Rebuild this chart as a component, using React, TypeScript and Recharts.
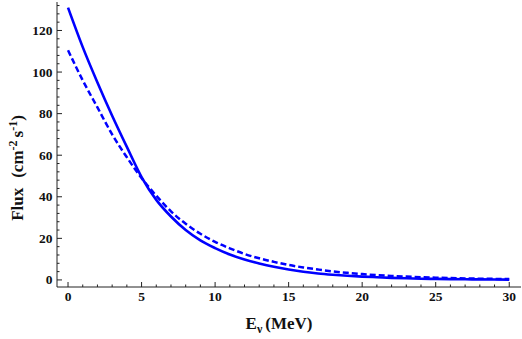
import React from 'react';
import { LineChart, Line, XAxis, YAxis } from 'recharts';

// neutrino energy (MeV) and the two flux curves
const ENERGY = [0, 1, 2, 3, 4, 5, 6, 7, 8, 9, 10, 11, 12, 13, 14, 15, 16, 17, 18, 19, 20, 21, 22, 23, 24, 25, 26, 27, 28, 29, 30];
const FLUX_SOLID = [131, 112, 95, 79, 64, 49.5, 38.5, 30.5, 24, 19, 15.3, 12.2, 9.8, 7.9, 6.3, 5.0, 3.9, 3.1, 2.5, 2.0, 1.6, 1.3, 1.0, 0.8, 0.6, 0.5, 0.4, 0.3, 0.25, 0.2, 0.15];
const FLUX_DASHED = [110.5, 96, 83, 70, 59, 49, 40.5, 33, 27, 22.2, 18.3, 15.2, 12.5, 10.4, 8.7, 7.2, 6.0, 5.0, 4.1, 3.4, 2.8, 2.3, 1.9, 1.6, 1.3, 1.1, 0.9, 0.7, 0.6, 0.5, 0.4];

const X_MAJOR = [0, 5, 10, 15, 20, 25, 30];
const Y_MAJOR = [0, 20, 40, 60, 80, 100, 120];

// minor ticks: every 1 MeV on x, every 4 on y
const X_TICKS = Array.from({ length: 31 }, (_, i) => i);
const Y_TICKS = Array.from({ length: 34 }, (_, i) => i * 4);

const data = ENERGY.map((e, i) => ({ e, solid: FLUX_SOLID[i], dashed: FLUX_DASHED[i] }));

const BLUE = '#0000ff';
const FRAME = '#222';
const FONT = 'Liberation Serif';

const MAJOR_LEN = 5;
const MINOR_LEN = 2.5;

const BottomTick = ({ x, y, payload }: any) => {
  const major = X_MAJOR.includes(payload.value);
  return (
    <g>
      <line x1={x} y1={y} x2={x} y2={y - (major ? MAJOR_LEN : MINOR_LEN)} stroke={FRAME} />
      {major && (
        <text x={x} y={y + 13.5} textAnchor="middle" style={{ fontFamily: FONT, fontWeight: 700, fontSize: 13.5 }} fill="#111">
          {payload.value}
        </text>
      )}
    </g>
  );
};

const TopTick = ({ x, y, payload }: any) => {
  const major = X_MAJOR.includes(payload.value);
  return <line x1={x} y1={y} x2={x} y2={y + (major ? MAJOR_LEN : MINOR_LEN)} stroke={FRAME} />;
};

const LeftTick = ({ x, y, payload }: any) => {
  const major = Y_MAJOR.includes(payload.value);
  return (
    <g>
      <line x1={x} y1={y} x2={x + (major ? MAJOR_LEN : MINOR_LEN)} y2={y} stroke={FRAME} />
      {major && (
        <text x={x - 4.5} y={y + 4.5} textAnchor="end" style={{ fontFamily: FONT, fontWeight: 700, fontSize: 13.5 }} fill="#111">
          {payload.value}
        </text>
      )}
    </g>
  );
};

const RightTick = ({ x, y, payload }: any) => {
  const major = Y_MAJOR.includes(payload.value);
  return <line x1={x} y1={y} x2={x - (major ? MAJOR_LEN : MINOR_LEN)} y2={y} stroke={FRAME} />;
};

const X_DOMAIN: [number, number] = [-0.75, 30.8];
const Y_DOMAIN: [number, number] = [-3.4, 133.7];

const titleStyle = { fontFamily: FONT, fontWeight: 700, fontSize: 17 };

export default function App() {
  return (
    <div style={{ position: 'absolute', left: 0, top: 0, width: 522, height: 339 }}>
      <LineChart width={522} height={339} data={data} margin={{ top: 2, right: 1, bottom: 0, left: 0 }}>
        <XAxis
          xAxisId="b"
          dataKey="e"
          type="number"
          domain={X_DOMAIN}
          allowDataOverflow
          ticks={X_TICKS}
          interval={0}
          height={52}
          tickSize={0}
          tickMargin={0}
          tickLine={false}
          axisLine={{ stroke: FRAME }}
          tick={<BottomTick />}
        />
        <XAxis
          xAxisId="t"
          orientation="top"
          dataKey="e"
          type="number"
          domain={X_DOMAIN}
          allowDataOverflow
          ticks={X_TICKS}
          interval={0}
          height={0}
          tickSize={0}
          tickMargin={0}
          tickLine={false}
          axisLine={{ stroke: FRAME }}
          tick={<TopTick />}
        />
        <YAxis
          yAxisId="l"
          type="number"
          domain={Y_DOMAIN}
          allowDataOverflow
          ticks={Y_TICKS}
          interval={0}
          width={57}
          tickSize={0}
          tickMargin={0}
          tickLine={false}
          axisLine={{ stroke: FRAME }}
          tick={<LeftTick />}
        />
        <YAxis
          yAxisId="r"
          orientation="right"
          type="number"
          domain={Y_DOMAIN}
          allowDataOverflow
          ticks={Y_TICKS}
          interval={0}
          width={0}
          tickSize={0}
          tickMargin={0}
          tickLine={false}
          axisLine={{ stroke: FRAME }}
          tick={<RightTick />}
        />
        <Line
          xAxisId="b"
          yAxisId="l"
          type="monotone"
          dataKey="dashed"
          stroke={BLUE}
          strokeWidth={2.5}
          strokeDasharray="6 3"
          dot={false}
          isAnimationActive={false}
        />
        <Line
          xAxisId="b"
          yAxisId="l"
          type="monotone"
          dataKey="solid"
          stroke={BLUE}
          strokeWidth={2.6}
          dot={false}
          isAnimationActive={false}
        />
      </LineChart>
      <svg width={522} height={339} style={{ position: 'absolute', left: 0, top: 0, pointerEvents: 'none' }}>
        <text x={279} y={329} textAnchor="middle" style={titleStyle} fill="#111">
          E
          <tspan fontSize={12} dy={4}>ν</tspan>
          <tspan dy={-4} dx={3}>(MeV)</tspan>
        </text>
        <text transform="translate(23,168) rotate(-90)" textAnchor="middle" style={titleStyle} fill="#111">
          Flux
          <tspan dx={10}>(cm</tspan>
          <tspan fontSize={12} dy={-6}>-2</tspan>
          <tspan dy={6} dx={3}>s</tspan>
          <tspan fontSize={12} dy={-6}>-1</tspan>
          <tspan dy={6}>)</tspan>
        </text>
      </svg>
    </div>
  );
}
